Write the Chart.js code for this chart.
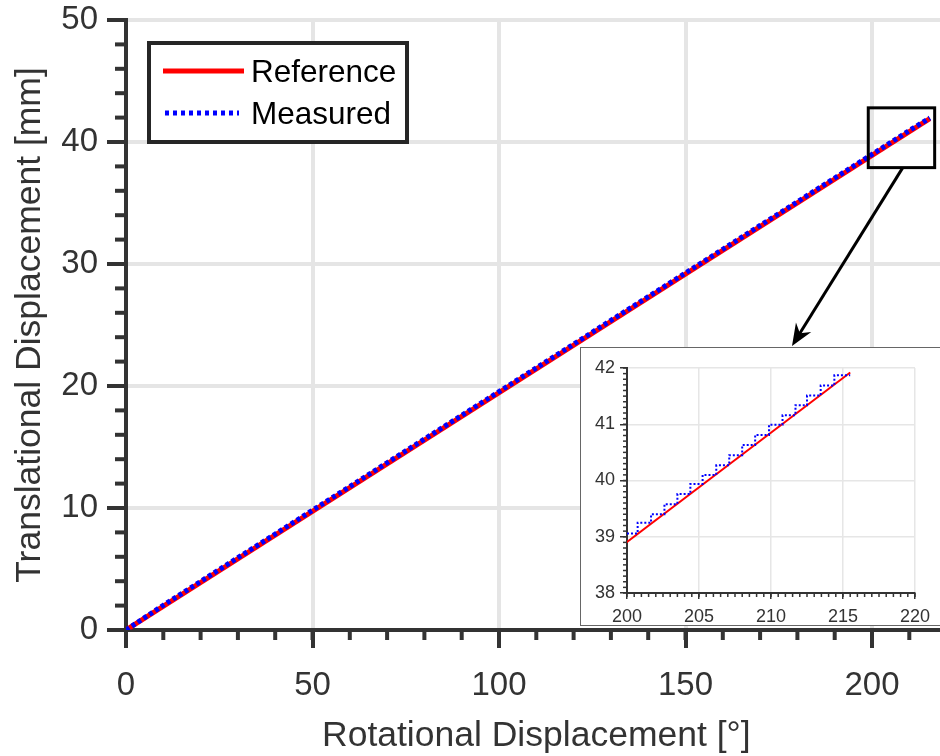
<!DOCTYPE html>
<html>
<head>
<meta charset="utf-8">
<script src="https://cdn.jsdelivr.net/npm/chart.js@4"></script>
<style>
  html, body { margin: 0; padding: 0; background: #fff; overflow: hidden; }
  #wrap { position: relative; width: 940px; height: 756px; overflow: hidden; }
  #mainChart { position: absolute; left: 0; top: 0; }
  #zoomBox { position: absolute; left: 580px; top: 347px; width: 380px; height: 277px;
             border: 1px solid #666; background: #fff; }
</style>
</head>
<body>
<div id="wrap">
  <canvas id="mainChart" width="960" height="756"></canvas>
  <div id="zoomBox"><canvas id="zoomChart" width="380" height="277"></canvas></div>
</div>
<script>
// reference trajectory (straight line)
const refX = [0, 215.5];
const refY = [0, 41.92];

// measured displacement, main view
const measX = [0, 10, 20, 30, 40, 50, 60, 70, 80, 90, 100, 110, 120, 130, 140, 150, 160, 170, 180, 190, 200, 210, 215.5];
const measY = [0, 2.03, 3.98, 5.93, 7.87, 9.82, 11.76, 13.71, 15.65, 17.60, 19.54, 21.49, 23.43, 25.38, 27.32, 29.27, 31.21, 33.16, 35.10, 37.05, 38.99, 40.94, 41.97];

// measured encoder steps in the zoomed window
const stepX = [200, 200.74, 201.67, 202.6, 203.5, 204.4, 205.25, 206.2, 207.1, 208.0, 208.9, 209.86, 210.8, 211.7, 212.5, 213.45, 214.4, 215.5];
const stepY = [39.06, 39.25, 39.40, 39.58, 39.76, 39.94, 40.10, 40.27, 40.45, 40.63, 40.81, 40.99, 41.16, 41.34, 41.51, 41.69, 41.87, 41.87];

const xTicksMain = [0, 50, 100, 150, 200];
const yTicksMain = [0, 10, 20, 30, 40, 50];
const xTicksZoom = [200, 205, 210, 215, 220];
const yTicksZoom = [38, 39, 40, 41, 42];

// zoomed region marked on the main plot
const zoomRegionX = [199, 216.8];
const zoomRegionY = [37.9, 42.8];

const FONT = "'Liberation Sans', Arial, Helvetica, sans-serif";
const AXIS = '#333333';

function pts(xs, ys) {
    return xs.map((x, i) => ({ x: x, y: ys[i] }));
}

function fixTicks(list) {
    return scale => { scale.ticks = list.map(v => ({ value: v })); };
}

function noPad(s) {
    s.paddingTop = 0;
    s.paddingBottom = 0;
    s.paddingLeft = 0;
    s.paddingRight = 0;
}

// small ticks between the labelled ones
function drawMinor(chart, step, xLen, yLen, width) {
    const ctx = chart.ctx;
    const xs = chart.scales.x, ys = chart.scales.y;
    const area = chart.chartArea;
    ctx.save();
    ctx.strokeStyle = AXIS;
    ctx.lineWidth = width;
    for (let v = xs.min; v <= xs.max + 1e-9; v += step.x) {
        const px = xs.getPixelForValue(v);
        ctx.beginPath();
        ctx.moveTo(px, area.bottom);
        ctx.lineTo(px, area.bottom + xLen);
        ctx.stroke();
    }
    for (let v = ys.min; v <= ys.max + 1e-9; v += step.y) {
        const py = ys.getPixelForValue(v);
        ctx.beginPath();
        ctx.moveTo(area.left, py);
        ctx.lineTo(area.left - yLen, py);
        ctx.stroke();
    }
    ctx.restore();
}

const mainExtras = {
    id: 'mainExtras',
    afterDraw(chart) {
        const ctx = chart.ctx;
        const area = chart.chartArea;
        const xs = chart.scales.x, ys = chart.scales.y;
        drawMinor(chart, { x: 10, y: 2 }, 10, 11, 4);

        // axis titles
        ctx.save();
        ctx.fillStyle = AXIS;
        ctx.font = '35.5px ' + FONT;
        ctx.textAlign = 'center';
        ctx.textBaseline = 'middle';
        ctx.fillText('Rotational Displacement [°]', (area.left + area.right) / 2, 736);
        ctx.translate(30, (area.top + area.bottom) / 2);
        ctx.rotate(-Math.PI / 2);
        ctx.fillText('Translational Displacement [mm]', 0, 0);
        ctx.restore();

        // legend
        const ds = chart.data.datasets;
        ctx.save();
        ctx.fillStyle = '#fff';
        ctx.fillRect(149, 43, 258, 99);
        ctx.strokeStyle = '#262626';
        ctx.lineWidth = 4;
        ctx.strokeRect(149, 43, 258, 99);
        ctx.lineWidth = 5;
        ctx.strokeStyle = ds[1].borderColor;
        ctx.beginPath(); ctx.moveTo(163, 71); ctx.lineTo(244, 71); ctx.stroke();
        ctx.strokeStyle = ds[0].borderColor;
        ctx.setLineDash([4, 4]);
        ctx.beginPath(); ctx.moveTo(165, 113); ctx.lineTo(239, 113); ctx.stroke();
        ctx.setLineDash([]);
        ctx.fillStyle = '#000';
        ctx.font = '31.5px ' + FONT;
        ctx.textBaseline = 'middle';
        ctx.fillText(ds[1].label, 251, 73);
        ctx.fillText(ds[0].label, 251, 115);
        ctx.restore();

        // zoom rectangle and arrow to the inset
        const x0 = xs.getPixelForValue(zoomRegionX[0]);
        const x1 = xs.getPixelForValue(zoomRegionX[1]);
        const y0 = ys.getPixelForValue(zoomRegionY[1]);
        const y1 = ys.getPixelForValue(zoomRegionY[0]);
        ctx.save();
        ctx.strokeStyle = '#000';
        ctx.lineWidth = 3;
        ctx.strokeRect(x0, y0, x1 - x0, y1 - y0);
        const sx = x0 + (x1 - x0) * 0.52, sy = y1;
        const tx = 792, ty = 346;
        const ang = Math.atan2(ty - sy, tx - sx);
        ctx.beginPath();
        ctx.moveTo(sx, sy);
        ctx.lineTo(tx - 12 * Math.cos(ang), ty - 12 * Math.sin(ang));
        ctx.stroke();
        ctx.fillStyle = '#000';
        ctx.translate(tx, ty);
        ctx.rotate(ang);
        ctx.beginPath();
        ctx.moveTo(0, 0);
        ctx.lineTo(-22, -9);
        ctx.lineTo(-15, 0);
        ctx.lineTo(-22, 9);
        ctx.closePath();
        ctx.fill();
        ctx.restore();
    }
};

const zoomExtras = {
    id: 'zoomExtras',
    afterDraw(chart) {
        drawMinor(chart, { x: 0.5, y: 0.1 }, 4, 4, 1.5);
    }
};

new Chart(document.getElementById('mainChart'), {
    type: 'line',
    data: {
        datasets: [
            {
                label: 'Measured',
                data: pts(measX, measY),
                borderColor: '#0000ff',
                borderWidth: 5,
                borderDash: [4, 3],
                pointRadius: 0,
                order: 0
            },
            {
                label: 'Reference',
                data: pts(refX, refY),
                borderColor: '#ff0000',
                borderWidth: 5,
                pointRadius: 0,
                order: 1
            }
        ]
    },
    options: {
        responsive: false,
        animation: false,
        events: [],
        parsing: false,
        layout: { padding: { top: 20, right: 13.4, left: 0, bottom: 0 } },
        plugins: { legend: { display: false }, tooltip: { enabled: false } },
        scales: {
            x: {
                type: 'linear',
                min: 0,
                max: 220,
                afterBuildTicks: fixTicks(xTicksMain),
                afterFit: s => { s.height = 126; noPad(s); },
                grid: { color: '#e5e5e5', lineWidth: 4, tickLength: 18, tickWidth: 4, tickColor: AXIS },
                border: { color: AXIS, width: 4 },
                ticks: { color: AXIS, font: { size: 33, family: FONT }, padding: 18, maxRotation: 0 }
            },
            y: {
                type: 'linear',
                min: 0,
                max: 50,
                afterBuildTicks: fixTicks(yTicksMain),
                afterFit: s => { s.width = 126; noPad(s); },
                grid: { color: '#e5e5e5', lineWidth: 4, tickLength: 19, tickWidth: 4, tickColor: AXIS },
                border: { color: AXIS, width: 4 },
                ticks: { color: AXIS, font: { size: 33, family: FONT }, padding: 9 }
            }
        }
    },
    plugins: [mainExtras]
});

new Chart(document.getElementById('zoomChart'), {
    type: 'line',
    data: {
        datasets: [
            {
                label: 'Measured',
                data: pts(stepX, stepY),
                borderColor: '#0000ff',
                borderWidth: 2,
                borderDash: [2, 2],
                stepped: 'before',
                pointRadius: 0,
                order: 0
            },
            {
                label: 'Reference',
                data: pts(refX, refY),
                borderColor: '#ff0000',
                borderWidth: 2,
                pointRadius: 0,
                order: 1
            }
        ]
    },
    options: {
        responsive: false,
        animation: false,
        events: [],
        parsing: false,
        layout: { padding: { top: 20, right: 46, left: 0, bottom: 0 } },
        plugins: { legend: { display: false }, tooltip: { enabled: false } },
        scales: {
            x: {
                type: 'linear',
                min: 200,
                max: 220,
                afterBuildTicks: fixTicks(xTicksZoom),
                afterFit: s => { s.height = 32; noPad(s); },
                grid: { color: '#e6e6e6', lineWidth: 1.5, tickLength: 6, tickWidth: 1.5, tickColor: AXIS },
                border: { color: AXIS, width: 2 },
                ticks: { color: AXIS, font: { size: 18, family: FONT }, padding: 7, maxRotation: 0 }
            },
            y: {
                type: 'linear',
                min: 38,
                max: 42,
                afterBuildTicks: fixTicks(yTicksZoom),
                afterFit: s => { s.width = 46; noPad(s); },
                grid: { color: '#e6e6e6', lineWidth: 1.5, tickLength: 7, tickWidth: 1.5, tickColor: AXIS },
                border: { color: AXIS, width: 2 },
                ticks: { color: AXIS, font: { size: 18, family: FONT }, padding: 5 }
            }
        }
    },
    plugins: [zoomExtras]
});
</script>
</body>
</html>
